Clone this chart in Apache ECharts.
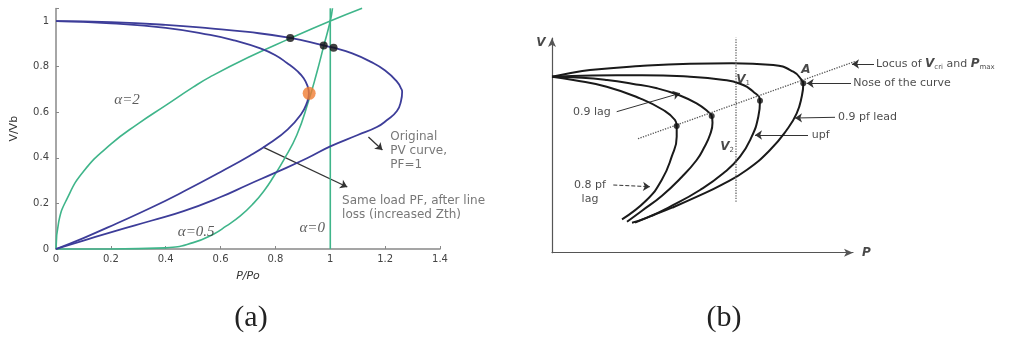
<!DOCTYPE html>
<html><head><meta charset="utf-8">
<script src="https://cdn.jsdelivr.net/npm/echarts@6/dist/echarts.min.js"></script>
<style>html,body{margin:0;padding:0;background:#fff}#c{width:1011px;height:339px}</style>
</head><body><div id="c"></div>
<script>
// ---------- Panel (a): P/Po vs V/Vb ----------
const xTicksA = [0, 0.2, 0.4, 0.6, 0.8, 1, 1.2, 1.4];
const yTicksA = [0, 0.2, 0.4, 0.6, 0.8, 1];
const originalPV = [[0,1.0],[0.2,0.995],[0.4,0.983],[0.562,0.968],[0.7,0.952],[0.854,0.926],[0.976,0.893],[1.012,0.883],[1.08,0.858],[1.146,0.822],[1.2,0.783],[1.243,0.734],[1.26,0.7],[1.262,0.69],[1.258,0.65],[1.243,0.605],[1.207,0.566],[1.17,0.535],[1.1,0.5],[1.0,0.45],[0.915,0.398],[0.8,0.335],[0.7,0.282],[0.6,0.228],[0.465,0.166],[0.35,0.125],[0.221,0.081],[0.1,0.037],[0,0]];
const lineLossPV = [[0,1.0],[0.2,0.99],[0.4,0.97],[0.562,0.939],[0.65,0.915],[0.745,0.88],[0.8,0.85],[0.842,0.816],[0.88,0.78],[0.903,0.749],[0.917,0.715],[0.922,0.683],[0.915,0.642],[0.893,0.59],[0.845,0.525],[0.78,0.465],[0.708,0.41],[0.6,0.338],[0.465,0.252],[0.35,0.183],[0.221,0.112],[0.1,0.048],[0,0]];
const alpha2 = [[0,0],[0.01,0.12],[0.04,0.22],[0.1,0.34],[0.2,0.46],[0.3,0.55],[0.4,0.63],[0.5,0.71],[0.562,0.755],[0.7,0.84],[0.854,0.924],[1.0,1.0],[1.116,1.056]];
const alpha05 = [[0,0],[0.2,0.0],[0.4,0.005],[0.5,0.028],[0.574,0.065],[0.62,0.1],[0.672,0.145],[0.72,0.2],[0.76,0.258],[0.793,0.317],[0.83,0.39],[0.878,0.5],[0.921,0.65],[0.95,0.77],[0.976,0.89],[1.0,1.0],[1.008,1.056]];
const alpha0 = [[1,0],[1,1.056]];
const blackDots = [[0.854,0.926],[0.976,0.893],[1.012,0.883]];
const orangeDot = [[0.923,0.683]];
const alphaLabels = [[0.259,0.654,'α=2'],[0.511,0.075,'α=0.5'],[0.934,0.092,'α=0']];
const noteLabelsA = [[1.219,0.43,'Original\nPV curve,\nPF=1'],[1.043,0.182,'Same load PF, after line\nloss (increased Zth)']];
const arrowsA = [[[1.139,0.491],[1.19,0.434]],[[0.755,0.447],[1.062,0.272]]];

// ---------- Panel (b): schematic P vs V ----------
const lead09 = [[0,1.76],[0.15,1.79],[0.38,1.827],[0.88,1.867],[1.38,1.89],[1.8,1.895],[2.213,1.877],[2.413,1.81],[2.497,1.727],[2.513,1.694],[2.497,1.56],[2.447,1.394],[2.347,1.227],[2.18,1.027],[1.947,0.827],[1.7,0.68],[1.45,0.56],[1.2,0.45],[1.0,0.37],[0.83,0.3]];
const upf = [[0,1.76],[0.4,1.772],[0.9,1.775],[1.38,1.76],[1.7,1.73],[1.88,1.69],[2.013,1.61],[2.08,1.52],[2.063,1.36],[1.997,1.16],[1.88,0.96],[1.713,0.794],[1.48,0.627],[1.2,0.47],[0.95,0.35],[0.8,0.3]];
const lag09 = [[0,1.76],[0.3,1.75],[0.55,1.727],[0.8,1.69],[1.05,1.644],[1.28,1.572],[1.45,1.49],[1.56,1.41],[1.597,1.367],[1.605,1.3],[1.58,1.18],[1.52,1.05],[1.447,0.927],[1.3,0.76],[1.1,0.57],[0.9,0.42],[0.75,0.31]];
const lag08 = [[0,1.76],[0.213,1.727],[0.547,1.66],[0.88,1.544],[1.113,1.427],[1.23,1.327],[1.247,1.267],[1.247,1.16],[1.197,0.96],[1.097,0.727],[0.947,0.527],[0.7,0.334]];
const noseDots = [[1.247,1.267],[1.597,1.367],[2.08,1.52],[2.513,1.694]];
const locusLine = [[0.86,1.14],[3.08,1.93]];
const vertLine = [[1.84,0.51],[1.84,2.15]];
const labelsB = [
  [-0.11,2.1,'{i|V}','center'],
  [3.1,0.0,'{i|P}','left'],
  [2.54,1.83,'{i|A}','center'],
  [1.91,1.727,'{i|V}{s|1}','center'],
  [1.75,1.06,'{i|V}{s|2}','center'],
  [0.21,1.41,'0.9 lag','left'],
  [0.38,0.602,'0.8 pf\nlag','center'],
  [2.86,1.354,'0.9 pf lead','left'],
  [2.597,1.177,'upf','left'],
  [3.013,1.697,'Nose of the curve','left'],
  [3.24,1.887,'Locus of {i|V}{s|cri} and {i|P}{s|max}','left']
];
const arrowsB = [
  [[0.647,1.41],[1.28,1.594],'solid'],
  [[0.613,0.677],[0.98,0.66],'dashed'],
  [[2.83,1.354],[2.43,1.347],'solid'],
  [[2.56,1.177],[2.03,1.177],'solid'],
  [[2.99,1.694],[2.547,1.694],'solid'],
  [[3.22,1.887],[3.0,1.887],'solid']
];

const chart = echarts.init(document.getElementById('c'), null, {renderer:'canvas'});
const blue = '#3d3d99', green = '#3fb58a';
function curve(data, color, w, gi, extra) {
  return Object.assign({type:'line', xAxisIndex:gi, yAxisIndex:gi, data, showSymbol:false, smooth:0.5, clip:false,
    lineStyle:{color, width:w}, silent:true}, extra||{});
}
function arrows(list, gi, color, w) {
  return list.map(a => ({type:'lines', coordinateSystem:'cartesian2d', xAxisIndex:gi, yAxisIndex:gi, clip:false, silent:true,
    symbol:['none','arrow'], symbolSize:7,
    lineStyle:{color, width:w, type:a[2]||'solid', opacity:1},
    data:[{coords:[a[0],a[1]]}]}));
}
const tickFmt = v => (Math.abs(v/0.2 - Math.round(v/0.2)) < 1e-6 ? String(+v.toFixed(1)) : '');

const option = {
  animation:false,
  backgroundColor:'#fff',
  grid:[{left:56, right:571, top:8.5, bottom:90},{left:552, right:158, top:38, bottom:86.3}],
  xAxis:[
    {gridIndex:0, type:'value', min:xTicksA[0], max:xTicksA[xTicksA.length-1], interval:0.2,
     name:'P/Po', nameLocation:'middle', nameGap:22,
     nameTextStyle:{fontFamily:'DejaVu Sans', fontSize:11, fontStyle:'italic', color:'#333'},
     axisLine:{lineStyle:{color:'#888', width:1.5}}, axisTick:{inside:true, length:3, lineStyle:{color:'#888'}},
     axisLabel:{fontFamily:'DejaVu Sans', fontSize:10, color:'#444', margin:5, formatter:tickFmt}, splitLine:{show:false}},
    {gridIndex:1, type:'value', min:0, max:3.01,
     axisLine:{show:true, symbol:['none','arrow'], symbolSize:[6,9], lineStyle:{color:'#555', width:1.2}},
     axisTick:{show:false}, axisLabel:{show:false}, splitLine:{show:false}}
  ],
  yAxis:[
    {gridIndex:0, type:'value', min:0, max:1.055, interval:0.2,
     name:'V/Vb', nameLocation:'middle', nameGap:36, nameRotate:90,
     nameTextStyle:{fontFamily:'DejaVu Sans', fontSize:11, color:'#333'},
     axisLine:{show:true, lineStyle:{color:'#888', width:1.5}}, axisTick:{show:true, inside:true, length:3, lineStyle:{color:'#888'}},
     axisLabel:{fontFamily:'DejaVu Sans', fontSize:10, color:'#444', margin:7, formatter:tickFmt}, splitLine:{show:false}},
    {gridIndex:1, type:'value', min:0, max:2.147,
     axisLine:{show:true, symbol:['none','arrow'], symbolSize:[6,9], lineStyle:{color:'#555', width:1.2}},
     axisTick:{show:false}, axisLabel:{show:false}, splitLine:{show:false}}
  ],
  series:[
    curve(alpha2, green, 1.6, 0),
    curve(alpha05, green, 1.6, 0),
    curve(alpha0, green, 1.6, 0, {smooth:false}),
    curve(originalPV, blue, 1.8, 0),
    curve(lineLossPV, blue, 1.8, 0),
    {type:'scatter', xAxisIndex:0, yAxisIndex:0, data:blackDots, symbolSize:8, itemStyle:{color:'#111'}, silent:true, z:5},
    {type:'scatter', xAxisIndex:0, yAxisIndex:0, data:orangeDot, symbolSize:13, itemStyle:{color:'#f07d32'}, silent:true, z:5},
    ...arrows(arrowsA, 0, '#333', 1.3),
    {type:'scatter', xAxisIndex:0, yAxisIndex:0, symbolSize:0, clip:false, silent:true, z:6,
     data:alphaLabels.map(t => ({value:[t[0],t[1]], name:t[2]})),
     label:{show:true, position:[0,0], align:'center', verticalAlign:'middle', formatter:p=>p.name,
       fontFamily:'Liberation Serif', fontStyle:'italic', fontSize:15, color:'#333'}},
    {type:'scatter', xAxisIndex:0, yAxisIndex:0, symbolSize:0, clip:false, silent:true, z:6,
     data:noteLabelsA.map(t => ({value:[t[0],t[1]], name:t[2]})),
     label:{show:true, position:[0,0], align:'left', verticalAlign:'middle', formatter:p=>p.name,
       fontFamily:'DejaVu Sans', fontSize:12, lineHeight:14, color:'#555'}},
    // panel b
    curve(lead09, '#1a1a1a', 2, 1),
    curve(upf, '#1a1a1a', 2, 1),
    curve(lag09, '#1a1a1a', 2, 1),
    curve(lag08, '#1a1a1a', 2, 1),
    curve(locusLine, '#555', 1.3, 1, {smooth:false, lineStyle:{color:'#555', width:1.3, type:'dotted'}}),
    curve(vertLine, '#555', 1.3, 1, {smooth:false, lineStyle:{color:'#666', width:1.3, type:'dotted'}}),
    {type:'scatter', xAxisIndex:1, yAxisIndex:1, data:noseDots, symbolSize:6, itemStyle:{color:'#111'}, silent:true, z:5},
    ...arrows(arrowsB, 1, '#333', 1),
    {type:'scatter', xAxisIndex:1, yAxisIndex:1, symbolSize:0, clip:false, silent:true, z:6,
     data:labelsB.map(t => ({value:[t[0],t[1]], name:t[2], label:{align:t[3]}})),
     label:{show:true, position:[0,0], verticalAlign:'middle', formatter:p=>p.name,
       fontFamily:'DejaVu Sans', fontSize:11, lineHeight:14, color:'#1a1a1a',
       rich:{i:{fontFamily:'DejaVu Sans', fontStyle:'italic', fontWeight:'bold', fontSize:12, color:'#1a1a1a', lineHeight:14},
             s:{fontFamily:'DejaVu Sans', fontSize:7, lineHeight:7, verticalAlign:'bottom', color:'#1a1a1a'}}}}
  ],
  graphic:[
    {type:'text', x:251, y:318, style:{text:'(a)', font:'30px "Liberation Serif"', fill:'#222', align:'center', verticalAlign:'middle'}},
    {type:'text', x:724, y:318, style:{text:'(b)', font:'30px "Liberation Serif"', fill:'#222', align:'center', verticalAlign:'middle'}}
  ]
};
chart.setOption(option);
</script></body></html>
